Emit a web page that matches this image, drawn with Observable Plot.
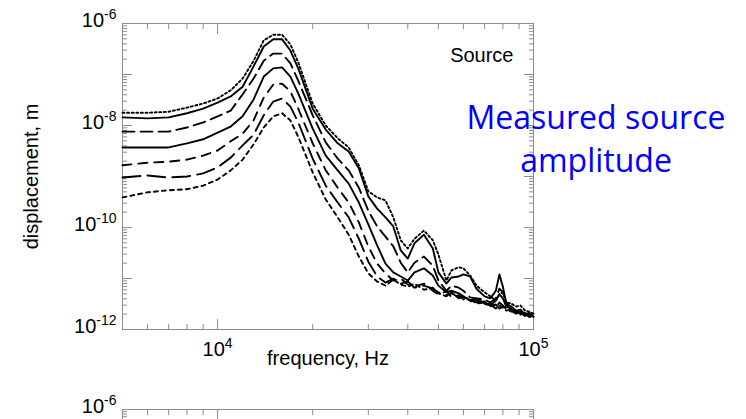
<!DOCTYPE html>
<html>
<head>
<meta charset="utf-8">
<script src="https://cdn.jsdelivr.net/npm/d3@7"></script>
<script src="https://cdn.jsdelivr.net/npm/@observablehq/plot@0.6"></script>
<style>
  html, body { margin: 0; padding: 0; background: #fff; width: 746px; height: 419px; overflow: hidden; }
  #wrap { position: relative; width: 746px; height: 419px; overflow: hidden; }
  #wrap svg { display: block; }
  #note { position: absolute; left: 436px; top: 95px; width: 320px; text-align: center;
          font-family: "Open Sans", sans-serif; font-size: 32px; line-height: 43px; color: #0000ff; }
</style>
</head>
<body>
<div id="wrap"><div id="note">Measured source<br>amplitude</div></div>
<script>
// frequency grid (Hz)
const frequency = [5000,6000,7000,8000,9000,10000,11000,12000,13000,14000,15000,16000,17000,18000,
  20000,22000,24000,26000,28000,30000,32000,34000,36000,38000,40000,42000,
  45000,48000,50000,53000,55000,58000,60000,63000,66000,70000,73000,76000,78000,80000,82000,85000,88000,91000,94000,97000,100000];

// log10 of displacement (m), one array per curve (top to bottom)
const logDispDotted = [-7.75,-7.75,-7.73,-7.65,-7.57,-7.47,-7.31,-7.08,-6.73,-6.33,-6.22,-6.22,-6.41,-6.76,
  -7.57,-8.00,-8.25,-8.43,-8.78,-9.29,-9.41,-9.47,-9.80,-10.25,-10.41,-10.22,
  -10.06,-10.25,-10.53,-11.04,-10.84,-10.78,-10.80,-10.94,-11.14,-11.27,-11.35,-11.43,-11.31,-11.27,-11.47,-11.49,-11.55,-11.53,-11.63,-11.65,-11.69];
const logDispSolidA = [-7.84,-7.86,-7.84,-7.76,-7.67,-7.55,-7.43,-7.24,-6.84,-6.45,-6.31,-6.31,-6.53,-6.88,
  -7.67,-8.08,-8.35,-8.51,-8.84,-9.39,-9.63,-9.80,-9.98,-10.45,-10.61,-10.31,
  -10.14,-10.41,-10.88,-11.10,-10.98,-10.96,-10.92,-10.96,-11.20,-11.35,-11.39,-11.24,-10.92,-11.16,-11.49,-11.55,-11.63,-11.61,-11.71,-11.67,-11.75];
const logDispDashA = [-8.12,-8.12,-8.12,-8.04,-7.94,-7.82,-7.71,-7.39,-7.08,-6.73,-6.59,-6.59,-6.78,-7.12,
  -7.80,-8.33,-8.65,-8.88,-9.22,-9.67,-9.98,-10.18,-10.37,-10.69,-10.88,-10.69,
  -10.57,-10.75,-11.04,-11.24,-11.14,-11.18,-11.24,-11.37,-11.39,-11.41,-11.47,-11.39,-11.20,-11.27,-11.51,-11.61,-11.63,-11.69,-11.67,-11.73,-11.71];
const logDispSolidB = [-8.43,-8.43,-8.43,-8.35,-8.27,-8.14,-8.02,-7.82,-7.49,-7.04,-6.88,-6.86,-7.04,-7.37,
  -8.06,-8.59,-8.88,-9.14,-9.51,-9.94,-10.35,-10.71,-10.88,-10.96,-11.04,-10.88,
  -10.80,-10.94,-11.14,-11.27,-11.24,-11.29,-11.35,-11.43,-11.39,-11.49,-11.53,-11.43,-11.31,-11.39,-11.55,-11.59,-11.67,-11.65,-11.73,-11.69,-11.75];
const logDispDashB = [-8.78,-8.73,-8.71,-8.67,-8.59,-8.49,-8.31,-8.16,-7.90,-7.45,-7.20,-7.18,-7.33,-7.67,
  -8.35,-8.88,-9.22,-9.51,-9.90,-10.37,-10.71,-10.90,-11.04,-11.00,-11.12,-11.16,
  -11.10,-11.24,-11.31,-11.25,-11.37,-11.33,-11.41,-11.45,-11.43,-11.51,-11.49,-11.57,-11.47,-11.53,-11.61,-11.65,-11.63,-11.71,-11.69,-11.75,-11.73];
const logDispLongDash = [-9.02,-8.98,-9.02,-9.00,-8.94,-8.82,-8.63,-8.39,-8.18,-7.80,-7.53,-7.47,-7.63,-7.94,
  -8.65,-9.18,-9.51,-9.80,-10.22,-10.67,-10.96,-11.08,-11.00,-11.10,-11.06,-11.18,
  -11.14,-11.20,-11.27,-11.33,-11.29,-11.37,-11.35,-11.43,-11.47,-11.45,-11.55,-11.51,-11.59,-11.55,-11.59,-11.63,-11.69,-11.67,-11.73,-11.71,-11.76];
const logDispShortDash = [-9.41,-9.31,-9.27,-9.25,-9.18,-9.06,-8.88,-8.67,-8.37,-8.04,-7.82,-7.76,-7.90,-8.22,
  -8.92,-9.45,-9.80,-10.14,-10.57,-10.90,-11.06,-11.14,-11.02,-11.12,-11.16,-11.10,
  -11.22,-11.18,-11.29,-11.35,-11.27,-11.39,-11.37,-11.41,-11.49,-11.47,-11.51,-11.59,-11.53,-11.57,-11.63,-11.61,-11.67,-11.71,-11.67,-11.75,-11.75];

const seriesData = [logDispDotted, logDispSolidA, logDispDashA, logDispSolidB, logDispDashB, logDispLongDash, logDispShortDash];
const seriesDash = ["2,2.6", null, "12,6", null, "9,7", "18,7", "4,4"];

// axis ticks
const xMajor = [1e4, 1e5];
const xMinor = [6000,7000,8000,9000,20000,30000,40000,50000,60000,70000,80000,90000];
const yMajor = [1e-12,1e-11,1e-10,1e-9,1e-8,1e-7,1e-6];
const yLabelTicks = [1e-12,1e-10,1e-8,1e-6];
const yMinor = yMajor.slice(0, -1).flatMap(p => [2,3,4,5,6,7,8,9].map(k => k * p));

const xLabel = "frequency, Hz";
const yLabel = "displacement, m";
const panelLabel = "Source";

const grey = "#8c8c8c";
const fmt = d => "10^" + Math.round(Math.log10(d));
const blank = () => "";

function tickMarks() {
  const m = [];
  for (const anchor of ["bottom", "top"]) {
    m.push(Plot.axisX({anchor, ticks: xMajor, tickSize: -10, tickFormat: blank, stroke: grey, label: null}));
    m.push(Plot.axisX({anchor, ticks: xMinor, tickSize: -5, tickFormat: blank, stroke: grey, label: null}));
  }
  for (const anchor of ["left", "right"]) {
    m.push(Plot.axisY({anchor, ticks: yMajor, tickSize: -10, tickFormat: blank, stroke: grey, label: null}));
    m.push(Plot.axisY({anchor, ticks: yMinor, tickSize: -5, tickFormat: blank, stroke: grey, label: null}));
  }
  return m;
}

const baseOpts = {
  width: 746,
  marginLeft: 122, marginRight: 213, marginTop: 23,
  x: {type: "log", domain: [5000, 100000]},
  y: {type: "log", domain: [1e-12, 1e-6]},
  style: {fontFamily: "'Liberation Sans', Arial, sans-serif", fontSize: "20px", background: "transparent", overflow: "visible", color: "#000"}
};

const lineMarks = seriesData.map((arr, s) =>
  Plot.line(frequency.map((f, i) => ({f, d: 10 ** arr[i]})), {
    x: "f", y: "d", stroke: "#000", strokeWidth: 1.9, strokeDasharray: seriesDash[s]
  })
);

const main = Plot.plot({
  ...baseOpts,
  height: 386, marginBottom: 57,
  marks: [
    ...tickMarks(),
    Plot.frame({stroke: grey}),
    ...lineMarks,
    Plot.axisX({anchor: "bottom", ticks: xMajor, tickSize: 0, tickPadding: 12, tickFormat: fmt, fontSize: 20, label: null}),
    Plot.axisY({anchor: "left", ticks: yLabelTicks, tickSize: 0, tickPadding: 6, dy: -3, tickFormat: fmt, fontSize: 20, label: null}),
    Plot.text([panelLabel], {frameAnchor: "top-right", textAnchor: "end", dx: -20, dy: 24, fontSize: 20}),
    Plot.text([xLabel], {frameAnchor: "bottom", textAnchor: "middle", dy: 35, fontSize: 20}),
    Plot.text([yLabel], {frameAnchor: "left", textAnchor: "middle", rotate: -90, dx: -91, fontSize: 20})
  ]
});

const second = Plot.plot({
  ...baseOpts,
  height: 360, marginBottom: 57,
  marks: [
    ...tickMarks(),
    Plot.frame({stroke: grey}),
    Plot.axisY({anchor: "left", ticks: [1e-6], tickSize: 0, tickPadding: 6, dy: -3, tickFormat: fmt, fontSize: 20, label: null})
  ]
});

function superscripts(svg) {
  const ns = "http://www.w3.org/2000/svg";
  svg.querySelectorAll("text").forEach(t => {
    const m = t.textContent.match(/^10\^(.+)$/);
    if (!m) return;
    t.textContent = "10";
    const ts = document.createElementNS(ns, "tspan");
    ts.setAttribute("dy", "-8");
    ts.setAttribute("font-size", "14");
    ts.textContent = m[1];
    t.appendChild(ts);
  });
}
superscripts(main);
superscripts(second);

const wrap = document.getElementById("wrap");
wrap.insertBefore(second, wrap.firstChild);
wrap.insertBefore(main, wrap.firstChild);
</script>
</body>
</html>
